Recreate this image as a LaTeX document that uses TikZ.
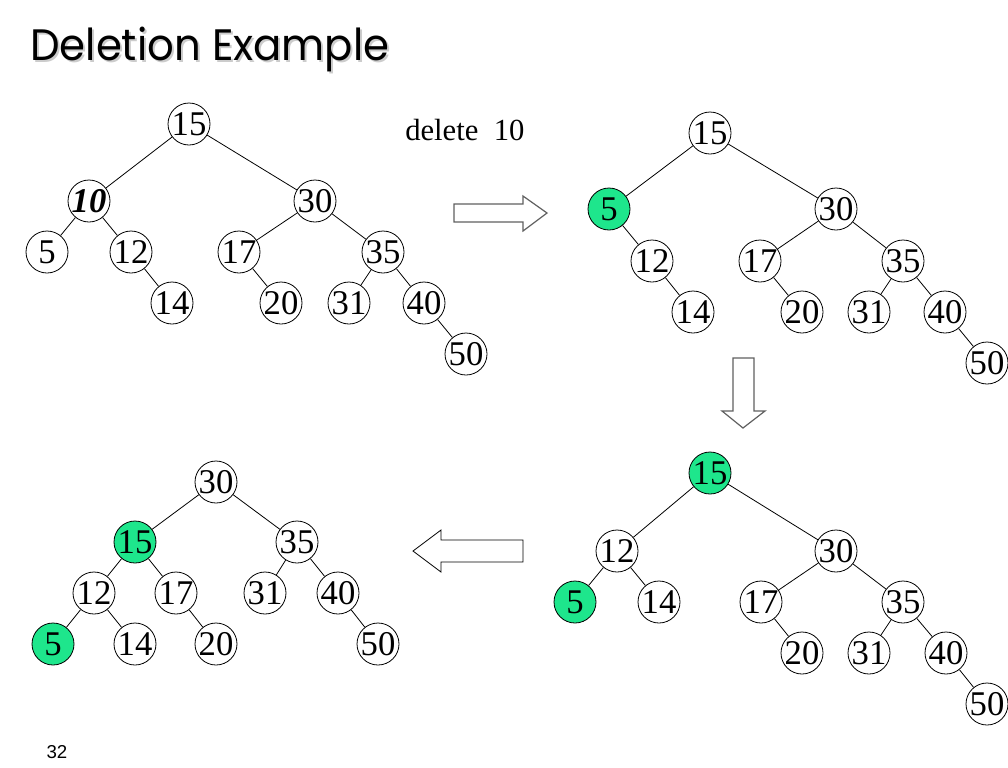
\documentclass[tikz,border=0pt]{standalone}
\usepackage{fontspec}
\setmainfont{Liberation Serif}
\setsansfont{Liberation Sans}
\newfontfamily\titlefont{Poppins}
\definecolor{keyGreen}{RGB}{30,230,140}

\begin{document}
\begin{tikzpicture}
[x=0.75pt,y=-0.75pt,
  lineDecorate/.style={-,line width=0.6pt},%
  nodeDecorate/.style={shape=circle,inner sep=0pt,minimum size=31.5pt,draw,line width=0.6pt,fill=white,
    font=\fontsize{26}{26}\selectfont},
  greenDecorate/.style={nodeDecorate,fill=keyGreen},
  arrowDecorate/.style={draw=gray!75!black,line width=0.9pt,fill=white}]
\useasboundingbox (0,0) rectangle (1008,768);
%% title and texts
\node[anchor=base west,inner sep=0pt,text=gray!40,font=\titlefont\fontsize{33}{33}\selectfont] (titleshadow) at (32,62) {\scalebox{0.95}[1]{Deletion Example}};
\node[anchor=base west,inner sep=0pt,font=\titlefont\fontsize{33}{33}\selectfont] (title) at (30,60) {\scalebox{0.95}[1]{Deletion Example}};
\node[anchor=west,inner sep=0pt,font=\fontsize{23}{23}\selectfont] (deltext) at (405,130) {delete\ \ 10};
\node[font=\sffamily\fontsize{14}{14}\selectfont] (pagenum) at (57,752) {32};
%% nodes or vertices
\node (a10) at (89,201) [nodeDecorate] {\textbf{\textit{10}}};
\foreach \tree/\key/\x/\y in {
  a/15/189/124, a/30/315/201, a/5/47/252, a/12/131/252,
  a/17/239/252, a/35/383/252, a/14/172/303, a/20/281/303,
  a/31/349/303, a/40/424/303, a/50/466/354,
  b/15/710/133, b/30/836/209, b/12/652/261, b/17/760/261,
  b/35/903/261, b/14/693/312, b/20/802/312, b/31/869/312,
  b/40/945/312, b/50/987/363,
  c/12/617/551, c/30/836/551, c/14/659/602, c/17/761/602,
  c/35/903/602, c/20/802/653, c/31/869/653, c/40/946/653,
  c/50/987/704,
  d/30/216/482, d/35/297/542, d/12/94/593, d/17/176/593,
  d/31/265/593, d/40/338/593, d/14/135/644, d/20/216/644,
  d/50/378/644}
{
  \node (\tree\key) at (\x,\y) [nodeDecorate] {\key};
}
%% moved keys
\foreach \tree/\key/\x/\y in {
  b/5/609/209, c/15/710/473, c/5/575/602, d/15/135/542, d/5/53/644}
{
  \node (\tree\key) at (\x,\y) [greenDecorate] {\key};
}
%% edges or lines
\path
\foreach \startnode/\endnode in {
  a15/a10, a15/a30, a10/a5, a10/a12, a12/a14, a30/a17, a30/a35,
  a17/a20, a35/a31, a35/a40, a40/a50,
  b15/b5, b15/b30, b5/b12, b12/b14, b30/b17, b30/b35,
  b17/b20, b35/b31, b35/b40, b40/b50,
  c15/c12, c15/c30, c12/c5, c12/c14, c30/c17, c30/c35,
  c17/c20, c35/c31, c35/c40, c40/c50,
  d30/d15, d30/d35, d15/d12, d15/d17, d12/d5, d12/d14,
  d17/d20, d35/d31, d35/d40, d40/d50}
{
  (\startnode) edge[lineDecorate] (\endnode)
};
%% block arrows
\draw[arrowDecorate] (454,204) -- (523,204) -- (523,196) -- (547,213)
  -- (523,231) -- (523,222) -- (454,222) -- cycle;
\draw[arrowDecorate] (733,358) -- (754,358) -- (754,411) -- (765,411)
  -- (743,428) -- (722,411) -- (733,411) -- cycle;
\draw[arrowDecorate,draw=black,line width=0.6pt] (523,540) -- (441,540) -- (441,530)
  -- (413,551) -- (441,572) -- (441,562) -- (523,562) -- cycle;
\end{tikzpicture}
\end{document}
